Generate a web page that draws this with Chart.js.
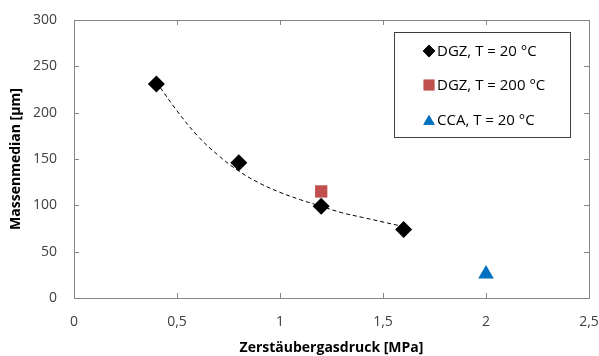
<!DOCTYPE html>
<html>
<head>
<meta charset="utf-8">
<script src="https://cdn.jsdelivr.net/npm/chart.js@4.4.0/dist/chart.umd.min.js"></script>
<style>
  html, body { margin: 0; padding: 0; background: #fff; }
  #wrap { width: 599px; height: 356px; }
</style>
</head>
<body>
<div id="wrap"><canvas id="mycanvas" width="599" height="356"></canvas></div>
<script>
// measured points
var dgz20X = [0.4, 0.8, 1.2, 1.6];
var dgz20Y = [231, 146, 99, 74];
var dgz200X = [1.2];
var dgz200Y = [115];
var ccaX = [2.0];
var ccaY = [26];

// dashed trend curve
var trendX = [0.4, 0.5, 0.6, 0.7, 0.8, 0.9, 1.0, 1.1, 1.2, 1.3, 1.4, 1.5, 1.6];
var trendY = [233, 202, 175, 154, 137, 124, 114, 106, 99, 92, 87, 82, 77];

var xTicks = [0, 0.5, 1, 1.5, 2, 2.5];
var yTicks = [0, 50, 100, 150, 200, 250, 300];

var seriesNames = ['DGZ, T = 20 °C', 'DGZ, T = 200 °C', 'CCA, T = 20 °C'];

function pts(xs, ys) {
	var out = [];
	for (var i in xs) {
		out.push({x: xs[i], y: ys[i]});
	}
	return out;
}

var FONT = "'Open Sans', 'Liberation Sans', sans-serif";

// frame, inward tick marks and boxed legend
var framePlugin = {
	id: 'frame',
	afterDraw: function(chart) {
		var ctx = chart.ctx;
		var a = chart.chartArea;
		var xs = chart.scales.x, ys = chart.scales.y;
		ctx.save();
		ctx.strokeStyle = '#868686';
		ctx.lineWidth = 1;
		ctx.strokeRect(Math.round(a.left) + 0.5, Math.round(a.top) + 0.5,
			Math.round(a.right - a.left), Math.round(a.bottom - a.top));
		ctx.beginPath();
		xTicks.forEach(function(v) {
			var px = Math.round(xs.getPixelForValue(v)) + 0.5;
			ctx.moveTo(px, a.bottom); ctx.lineTo(px, a.bottom - 5);
			ctx.moveTo(px, a.top); ctx.lineTo(px, a.top + 5);
		});
		yTicks.forEach(function(v) {
			var py = Math.round(ys.getPixelForValue(v)) + 0.5;
			ctx.moveTo(a.left, py); ctx.lineTo(a.left + 5, py);
			ctx.moveTo(a.right, py); ctx.lineTo(a.right - 5, py);
		});
		ctx.stroke();

		// legend
		var bx = 394, by = 32, bw = 176, bh = 105;
		ctx.fillStyle = '#fff';
		ctx.fillRect(bx, by, bw, bh);
		ctx.strokeStyle = '#404040';
		ctx.strokeRect(bx + 0.5, by + 0.5, bw, bh);
		ctx.font = '15px ' + FONT;
		ctx.textBaseline = 'middle';
		ctx.textAlign = 'left';
		var rows = [51, 85, 120];
		var radii = [6.2, 7.6, 6.6];
		for (var i = 0; i < 3; i++) {
			var ds = chart.data.datasets[i];
			ctx.fillStyle = ds.pointBackgroundColor;
			ctx.beginPath();
			Chart.helpers.drawPoint(ctx, {pointStyle: ds.pointStyle, radius: radii[i], borderWidth: 0}, 429, rows[i] + (i == 2 ? 1.5 : 0));
			ctx.fill();
			ctx.fillStyle = '#000';
			ctx.fillText(seriesNames[i], 437, rows[i] + 1);
		}
		ctx.restore();
	}
};

var ctx = document.getElementById('mycanvas');

var chart = new Chart(ctx, {
	type: 'scatter',
	data: {
		datasets: [
			{
				label: seriesNames[0],
				data: pts(dgz20X, dgz20Y),
				pointStyle: 'rectRot',
				pointRadius: 8.5,
				pointBackgroundColor: '#000000',
				pointBorderWidth: 0,
				borderColor: '#000000',
				order: 1
			},
			{
				label: seriesNames[1],
				data: pts(dgz200X, dgz200Y),
				pointStyle: 'rect',
				pointRadius: 8.7,
				pointBackgroundColor: '#C0504D',
				pointBorderWidth: 0,
				borderColor: '#C0504D',
				order: 2
			},
			{
				label: seriesNames[2],
				data: pts(ccaX, ccaY),
				pointStyle: 'triangle',
				pointRadius: 9,
				pointBackgroundColor: '#0070C0',
				pointBorderWidth: 0,
				borderColor: '#0070C0',
				order: 3
			},
			{
				label: 'trend',
				data: pts(trendX, trendY),
				showLine: true,
				pointRadius: 0,
				borderColor: '#000000',
				borderWidth: 1,
				borderDash: [4, 3],
				tension: 0.4,
				order: 4
			}
		]
	},
	options: {
		responsive: false,
		animation: false,
		layout: { padding: { top: 20, right: 10, left: 0, bottom: 0 } },
		plugins: {
			legend: { display: false },
			tooltip: { enabled: false }
		},
		scales: {
			x: {
				type: 'linear',
				min: 0, max: 2.5,
				afterBuildTicks: function(s) { s.ticks = xTicks.map(function(v) { return {value: v}; }); },
				afterFit: function(s) { s.height = 58; s.paddingLeft = 0; s.paddingRight = 0; },
				grid: { display: false, drawTicks: false },
				border: { display: false },
				ticks: {
					padding: 16,
					color: '#404040',
					font: { family: FONT, size: 14 },
					callback: function(v) { return String(v).replace('.', ','); }
				},
				title: {
					display: true,
					text: 'Zerstäubergasdruck [MPa]',
					color: '#000',
					font: { family: FONT, size: 14, weight: 'bold' },
					padding: { top: 4, bottom: 0 }
				}
			},
			y: {
				type: 'linear',
				min: 0, max: 300,
				afterBuildTicks: function(s) { s.ticks = yTicks.map(function(v) { return {value: v}; }); },
				afterFit: function(s) { s.width = 74; s.paddingTop = 0; s.paddingBottom = 0; },
				grid: { display: false, drawTicks: false },
				border: { display: false },
				ticks: {
					padding: 17,
					color: '#404040',
					font: { family: FONT, size: 14 }
				},
				title: {
					display: true,
					text: 'Massenmedian [µm]',
					color: '#000',
					font: { family: FONT, size: 14, weight: 'bold' },
					padding: { top: 8, bottom: 4 }
				}
			}
		}
	},
	plugins: [framePlugin]
});
</script>
</body>
</html>
